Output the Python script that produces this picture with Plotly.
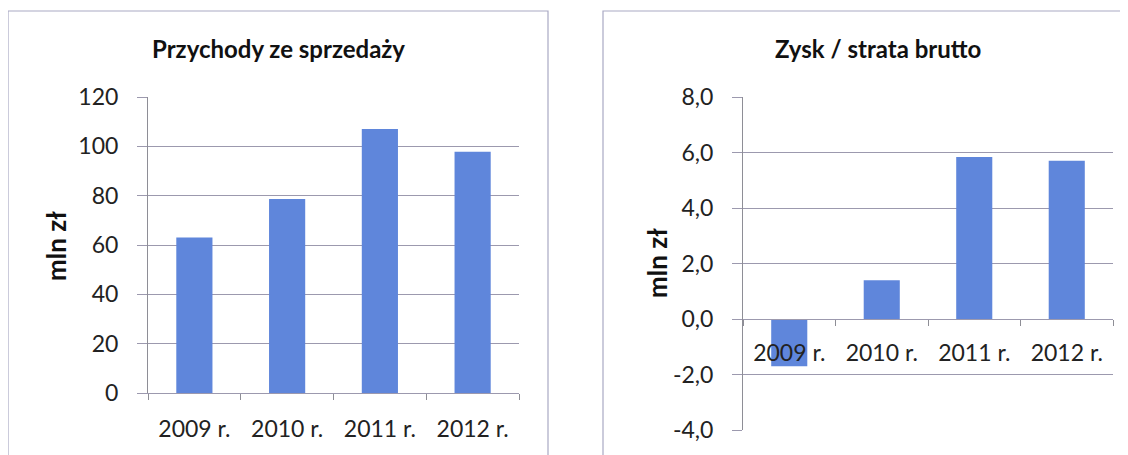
import plotly.graph_objects as go

W, H = 1128, 455

years = ["2009 r.", "2010 r.", "2011 r.", "2012 r."]
revenue = [63, 78.6, 107, 97.8]
profit = [-1.7, 1.4, 5.84, 5.7]

rev_ticks = [0, 20, 40, 60, 80, 100, 120]
rev_ticktext = ["0", "20", "40", "60", "80", "100", "120"]
prof_ticks = [-4, -2, 0, 2, 4, 6, 8]
prof_ticktext = ["-4,0", "-2,0", "0,0", "2,0", "4,0", "6,0", "8,0"]

title_left = "Przychody ze sprzedaży"
title_right = "Zysk / strata brutto"
y_title = "mln zł"

FONT = "Lato"
BAR = "#5f86db"
GRID = "#9c99ae"
AXIS = "#8e8e96"
BORDER = "#a9a9c4"

OFF = 8  # page body margin

def px(x):
    return (x - OFF) / W

def py(y):
    return 1 - (y - OFF) / H

fig = go.Figure()
fig.add_trace(go.Bar(x=years, y=revenue, marker=dict(color=BAR, line=dict(width=0)),
                     xaxis="x", yaxis="y", showlegend=False))
fig.add_trace(go.Bar(x=years, y=profit, marker=dict(color=BAR, line=dict(width=0)),
                     xaxis="x2", yaxis="y2", showlegend=False))

tickfont = dict(family=FONT, size=23, color="#222222")

fig.update_layout(
    width=W, height=H,
    margin=dict(l=0, r=0, t=0, b=0, pad=0, autoexpand=False),
    paper_bgcolor="white", plot_bgcolor="white",
    bargap=0.61,
    xaxis=dict(domain=[px(148), px(519)], anchor="y", showline=True, linecolor=GRID, linewidth=1.3,
               ticks="outside", tickson="boundaries", ticklen=6, tickcolor=AXIS, tickwidth=1,
               tickfont=tickfont, ticklabelstandoff=15, showgrid=False, automargin=False),
    yaxis=dict(domain=[py(393), py(97)], anchor="x", range=[0, 120],
               tickmode="array", tickvals=rev_ticks, ticktext=rev_ticktext,
               showline=True, linecolor=AXIS, linewidth=1, showgrid=True, gridcolor=GRID, gridwidth=1.3,
               ticks="outside", ticklen=10, tickcolor=GRID, tickwidth=1.3, tickfont=tickfont,
               ticklabelstandoff=14, zeroline=False, automargin=False),
    xaxis2=dict(domain=[px(743), px(1113)], anchor="free", position=py(319), showline=True,
                linecolor=GRID, linewidth=1.3, ticks="outside", tickson="boundaries", ticklen=6,
                tickcolor=AXIS, tickwidth=1, tickfont=tickfont, ticklabelstandoff=13, showgrid=False,
                automargin=False),
    yaxis2=dict(domain=[py(430), py(97)], anchor="x2", range=[-4, 8],
                tickmode="array", tickvals=prof_ticks, ticktext=prof_ticktext,
                showline=True, linecolor=AXIS, linewidth=1, showgrid=True, gridcolor=GRID, gridwidth=1.3,
                ticks="outside", ticklen=10, tickcolor=GRID, tickwidth=1.3, tickfont=tickfont,
                ticklabelstandoff=14, zeroline=False, automargin=False),
)

# panel borders
fig.add_shape(type="rect", xref="paper", yref="paper", x0=px(8), x1=px(548), y0=py(480), y1=py(11),
              line=dict(color=BORDER, width=1.2), fillcolor="rgba(0,0,0,0)", layer="below")
fig.add_shape(type="rect", xref="paper", yref="paper", x0=px(603), x1=px(1170), y0=py(480), y1=py(11),
              line=dict(color=BORDER, width=1.2), fillcolor="rgba(0,0,0,0)", layer="below")

titlefont = dict(family=FONT, size=24, color="#111111", weight="bold")
yt_font = dict(family=FONT, size=26, color="#111111", weight="bold")
fig.add_annotation(text=title_left, xref="paper", yref="paper", x=px(278), y=py(48),
                   showarrow=False, font=titlefont, xanchor="center", yanchor="middle")
fig.add_annotation(text=title_right, xref="paper", yref="paper", x=px(878), y=py(48),
                   showarrow=False, font=titlefont, xanchor="center", yanchor="middle")
fig.add_annotation(text=y_title, xref="paper", yref="paper", x=px(56), y=py(246), textangle=-90,
                   showarrow=False, font=yt_font, xanchor="center", yanchor="middle")
fig.add_annotation(text=y_title, xref="paper", yref="paper", x=px(657), y=py(263), textangle=-90,
                   showarrow=False, font=yt_font, xanchor="center", yanchor="middle")

fig.write_html("out.html")
